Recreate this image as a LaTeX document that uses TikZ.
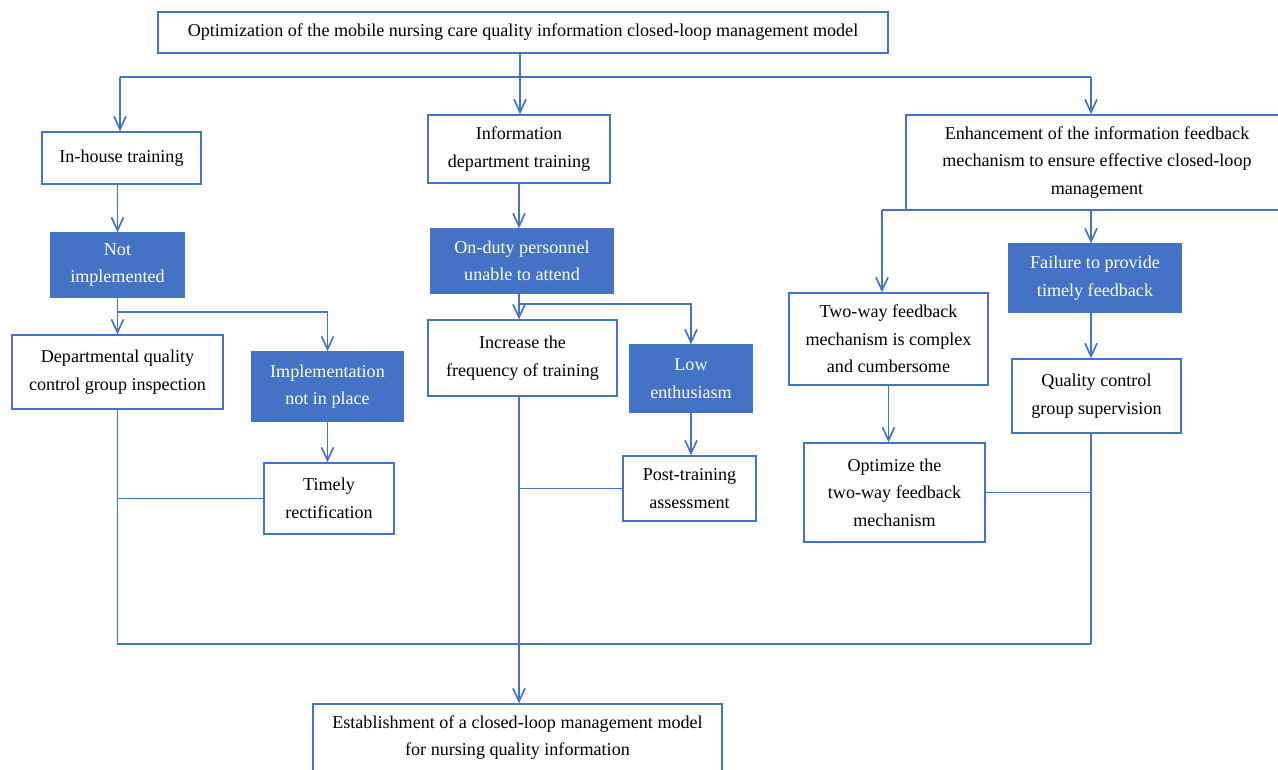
\documentclass[tikz,border=0pt]{standalone}
\usepackage{fontspec}
\setmainfont{Liberation Serif}
\usetikzlibrary{arrows.meta}
\definecolor{boxblue}{HTML}{4472C4}

\begin{document}
\begin{tikzpicture}[x=0.02cm, y=-0.02cm,
    font=\fontsize{10.3}{15.6}\selectfont,
    plainbox/.style={draw=boxblue, line width=0.75pt, fill=white, align=center, inner sep=0pt},
    filledbox/.style={draw=boxblue, fill=boxblue, text=white, line width=0.75pt, align=center, inner sep=0pt},
    link/.style={draw=boxblue, line width=0.95pt},
    linkarrow/.style={link, -{Straight Barb[length=2.6mm, width=2.4mm]}}]

    % Define canvas size
    \useasboundingbox (0,0) rectangle (1278,770);

    % Define white boxes: name/x/y/width/height/text
    \def\plainboxes{%
      top/523/32.5/730/41/{Optimization of the mobile nursing care quality information closed-loop management model},%
      inhouse/121.5/158/159/52/{In-house training},%
      info/519/149/182/68/{Information\\department training},%
      enh/1097/162.5/382/95/{Enhancement of the information feedback\\mechanism to ensure effective closed-loop\\management},%
      dept/117.5/372/211/74/{Departmental quality\\control group inspection},%
      timely/329/498.5/130/71/{Timely\\rectification},%
      increase/522.5/358/189/76/{Increase the\\frequency of training},%
      post/689.5/488.5/133/65/{Post-training\\assessment},%
      twoway/888.5/339/199/92/{Two-way feedback\\mechanism is complex\\and cumbersome},%
      quality/1096.5/396/169/74/{Quality control\\group supervision},%
      optimize/894.5/492.5/181/99/{Optimize the\\two-way feedback\\mechanism},%
      final/517.5/737.5/409/67/{Establishment of a closed-loop management model\\for nursing quality information}%
    }

    % Define blue boxes: name/x/y/width/height/text
    \def\filledboxes{%
      notimp/117.5/265/133/64/{Not\\implemented},%
      implnot/327.5/386.5/151/69/{Implementation\\not in place},%
      onduty/522/261/182/64/{On-duty personnel\\unable to attend},%
      low/691/378.5/122/67/{Low\\enthusiasm},%
      failure/1095/278/172/68/{Failure to provide\\timely feedback}%
    }

    % Draw boxes
    \foreach \name/\xpos/\ypos/\w/\h/\txt in \plainboxes {
        \node[plainbox, minimum width=\w*0.02cm, minimum height=\h*0.02cm] (\name) at (\xpos,\ypos) {\txt};
    }
    \foreach \name/\xpos/\ypos/\w/\h/\txt in \filledboxes {
        \node[filledbox, minimum width=\w*0.02cm, minimum height=\h*0.02cm] (\name) at (\xpos,\ypos) {\txt};
    }

    % Draw connectors from the top box
    \coordinate (topsplit) at (520,77);
    \coordinate (leftsplit) at (120,77);
    \coordinate (rightsplit) at (1091,77);
    \draw[link] (top.south -| topsplit) -- (topsplit);
    \draw[link] (leftsplit) -- (rightsplit);
    \draw[linkarrow] (leftsplit) -- (leftsplit |- inhouse.north);
    \draw[linkarrow] (topsplit) -- (topsplit |- info.north);
    \draw[linkarrow] (rightsplit) -- (rightsplit |- enh.north);

    % Draw left column
    \coordinate (leftfork) at (117.5,312);
    \coordinate (leftbottom) at (117.5,644);
    \coordinate (rightbottom) at (1091,644);
    \draw[linkarrow] (notimp.north |- inhouse.south) -- (notimp.north);
    \draw[linkarrow] (notimp.south) -- (dept.north);
    \draw[linkarrow] (leftfork) -| (implnot.north);
    \draw[linkarrow] (implnot.south) -- (implnot.south |- timely.north);
    \draw[link] (dept.south) -- (leftbottom) -- (rightbottom);
    \draw[link] (timely.west) -- (timely.west -| dept.south);

    % Draw middle column
    \coordinate (midfork) at (519,304);
    \draw[linkarrow] (info.south) -- (info.south |- onduty.north);
    \draw[link] (onduty.south -| midfork) -- (midfork);
    \draw[linkarrow] (midfork) -- (midfork |- increase.north);
    \draw[linkarrow] (midfork) -| (low.north);
    \draw[linkarrow] (low.south) -- (low.south |- post.north);
    \draw[linkarrow] (increase.south -| midfork) -- (midfork |- final.north);
    \draw[link] (post.west) -- (post.west -| midfork);

    % Draw right column
    \coordinate (feedleft) at (882,210);
    \coordinate (feedright) at (1091,210);
    \draw[link] (feedleft) -- (feedright);
    \draw[linkarrow] (feedleft) -- (feedleft |- twoway.north);
    \draw[linkarrow] (feedright) -- (feedright |- failure.north);
    \draw[linkarrow] (twoway.south) -- (twoway.south |- optimize.north);
    \draw[linkarrow] (feedright |- failure.south) -- (feedright |- quality.north);
    \draw[link] (feedright |- quality.south) -- (rightbottom);
    \draw[link] (optimize.east) -- (optimize.east -| rightbottom);

\end{tikzpicture}
\end{document}
